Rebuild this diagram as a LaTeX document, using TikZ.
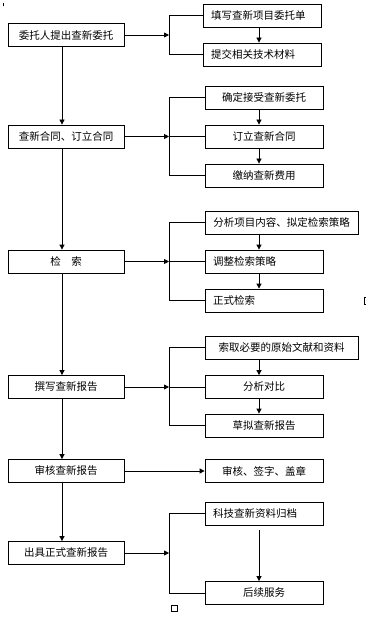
\documentclass[tikz,border=0pt]{standalone}
\usepackage{fontspec}
\newfontfamily\cjk{Noto Sans CJK SC}
\usetikzlibrary{arrows.meta}
\begin{document}
\begin{tikzpicture}[x=1pt,y=-1pt,
  box/.style={draw, line width=0.8pt, minimum height=23pt, inner sep=0pt,
    font=\cjk\fontsize{10.5}{12}\selectfont},
  lbox/.style={box, minimum width=116pt},
  rbox/.style={box, minimum width=118pt},
  wbox/.style={box, minimum width=153pt},
  leftal/.style={text width=102pt, align=left, inner xsep=8pt},
  arr/.style={-{Triangle[length=5pt,width=5pt]}, line width=0.8pt},
  ln/.style={line width=0.8pt}]
\useasboundingbox (0,0) rectangle (378,628);
% left column
\node[lbox] (L1) at (66,35) {委托人提出查新委托};
\node[lbox] (L2) at (66,136.5) {查新合同、订立合同};
\node[lbox] (L3) at (66,261.5) {检　索};
\node[lbox] (L4) at (66,387) {撰写查新报告};
\node[lbox] (L5) at (66,471) {审核查新报告};
\node[lbox] (L6) at (66,553) {出具正式查新报告};
% right boxes
\node[rbox,leftal] (R11) at (262,15.5) {填写查新项目委托单};
\node[rbox,leftal] (R12) at (262,54.5) {提交相关技术材料};
\node[rbox] (R21) at (264,97.5) {确定接受查新委托};
\node[rbox] (R22) at (264,136.5) {订立查新合同};
\node[rbox] (R23) at (264,175.5) {缴纳查新费用};
\node[wbox] (R31) at (281.5,222.5) {分析项目内容、拟定检索策略};
\node[rbox,leftal] (R32) at (264,261.5) {调整检索策略};
\node[rbox,leftal] (R33) at (264,300.5) {正式检索};
\node[wbox] (R41) at (281.5,347.5) {索取必要的原始文献和资料};
\node[rbox] (R42) at (264,387) {分析对比};
\node[rbox] (R43) at (264,425.5) {草拟查新报告};
\node[rbox] (R5) at (264,471) {审核、签字、盖章};
\node[rbox,leftal] (R61) at (264,513.5) {科技查新资料归档};
\node[rbox] (R62) at (264,593) {后续服务};
% helper coordinates
\coordinate (bx) at (169,0);
\coordinate (ax) at (259,0);
\coordinate (lx) at (62,0);
% left vertical arrows
\draw[arr] (L1.south -| lx) -- (L2.north -| lx);
\draw[arr] (L2.south -| lx) -- (L3.north -| lx);
\draw[arr] (L3.south -| lx) -- (L4.north -| lx);
\draw[arr] (L4.south -| lx) -- (L5.north -| lx);
\draw[arr] (L5.south -| lx) -- (L6.north -| lx);
% horizontal arrows to brackets
\draw[arr] (L1.east) -- (L1.east -| bx);
\draw[arr] (L2.east) -- (L2.east -| bx);
\draw[arr] (L3.east) -- (L3.east -| bx);
\draw[arr] (L4.east) -- (L4.east -| bx);
\draw[arr] (L5.east) -- (R5.west);
\draw[arr] (L6.east) -- (L6.east -| bx);
% brackets
\draw[ln] (R11.west) -- (R11.west -| bx) -- (R12.west -| bx) -- (R12.west);
\draw[ln] (R21.west) -- (R21.west -| bx) -- (R23.west -| bx) -- (R23.west);
\draw[ln] (R22.west -| bx) -- (R22.west);
\draw[ln] (R31.west) -- (R31.west -| bx) -- (R33.west -| bx) -- (R33.west);
\draw[ln] (R32.west -| bx) -- (R32.west);
\draw[ln] (R41.west) -- (R41.west -| bx) -- (R43.west -| bx) -- (R43.west);
\draw[ln] (R42.west -| bx) -- (R42.west);
\draw[ln] (R61.west) -- (R61.west -| bx) -- (R62.west -| bx) -- (R62.west);
% right vertical arrows
\draw[arr] (R11.south -| ax) -- (R12.north -| ax);
\draw[arr] (R21.south -| ax) -- (R22.north -| ax);
\draw[arr] (R22.south -| ax) -- (R23.north -| ax);
\draw[arr] (R31.south -| ax) -- (R32.north -| ax);
\draw[arr] (R32.south -| ax) -- (R33.north -| ax);
\draw[arr] (R41.south -| ax) -- (R42.north -| ax);
\draw[arr] (R42.south -| ax) -- (R43.north -| ax);
\draw[arr, shorten <=5pt] (R61.south -| ax) -- (R62.north -| ax);
% small marks
\draw[line width=0.6pt] (3,3) -- (3,6);
\draw[line width=0.8pt] (366,297) -- (364.5,297) -- (364.5,304) -- (366,304);
\draw[line width=0.6pt] (171,605) rectangle (177,611);
\end{tikzpicture}
\end{document}
